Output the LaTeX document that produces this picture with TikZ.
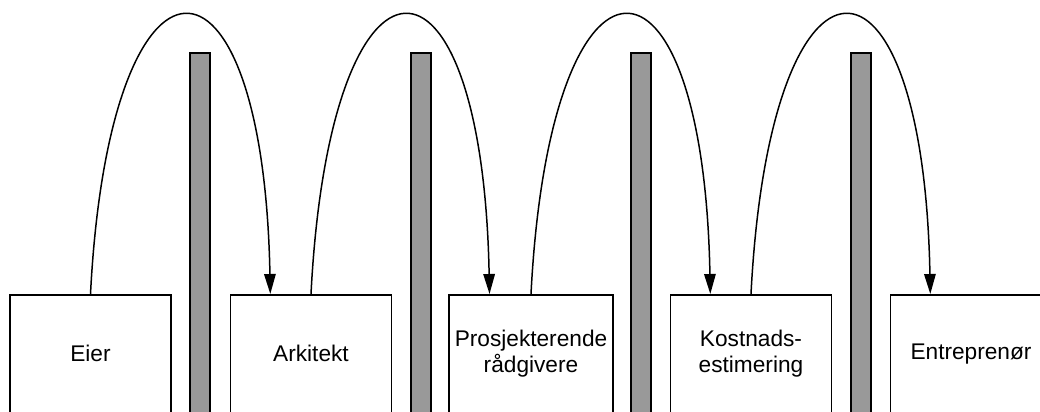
\documentclass[tikz,border=0pt]{standalone}
\usepackage{fontspec}
\setmainfont{Liberation Sans}
\usepackage{tikz}
\usetikzlibrary{calc}
\usetikzlibrary{arrows.meta}
\tikzset{
   role/.style={draw=black, line width=1pt, fill=white, anchor=north,
      minimum width=3.22cm, minimum height=2.36cm, align=center,
      font=\fontsize{12.9}{14.8}\selectfont},
   wall/.style={draw=black, line width=1pt, fill=black!40},
   handover/.style={draw=black, line width=0.85pt,
      -{Triangle[length=0.4cm, width=0.23cm]}},
    }

\begin{document}
\begin{tikzpicture}
            \clip (0,0) rectangle (20.8,8.22);
            \fill[white] (0,0) rectangle (20.8,8.22);
            % walls between the roles
            \foreach \x in {3.8,8.22,12.62,17.02}
               \draw[wall] (\x,-0.5) rectangle (\x+0.4,7.16);
            % roles
            \node[role] (eier) at (1.81,2.34) {Eier};
            \node[role] (arkitekt) at (6.22,2.34) {Arkitekt};
            \node[role] (radgiver) at (10.62,2.34) {Prosjekterende\\rådgivere};
            \node[role] (kostnad) at (15.02,2.34) {Kostnads-\\estimering};
            \node[role] (entreprenor) at (19.42,2.34) {Entreprenør};
            % hand-over arcs across each wall
            \foreach \a/\b in {eier/arkitekt,arkitekt/radgiver,radgiver/kostnad,kostnad/entreprenor}
               \draw[handover] (\a.north) .. controls +(0.38,7.42) and +(-0.14,7.42)
                  .. ($(\b.north west)!0.25!(\b.north east)$);
        \end{tikzpicture}
\end{document}
